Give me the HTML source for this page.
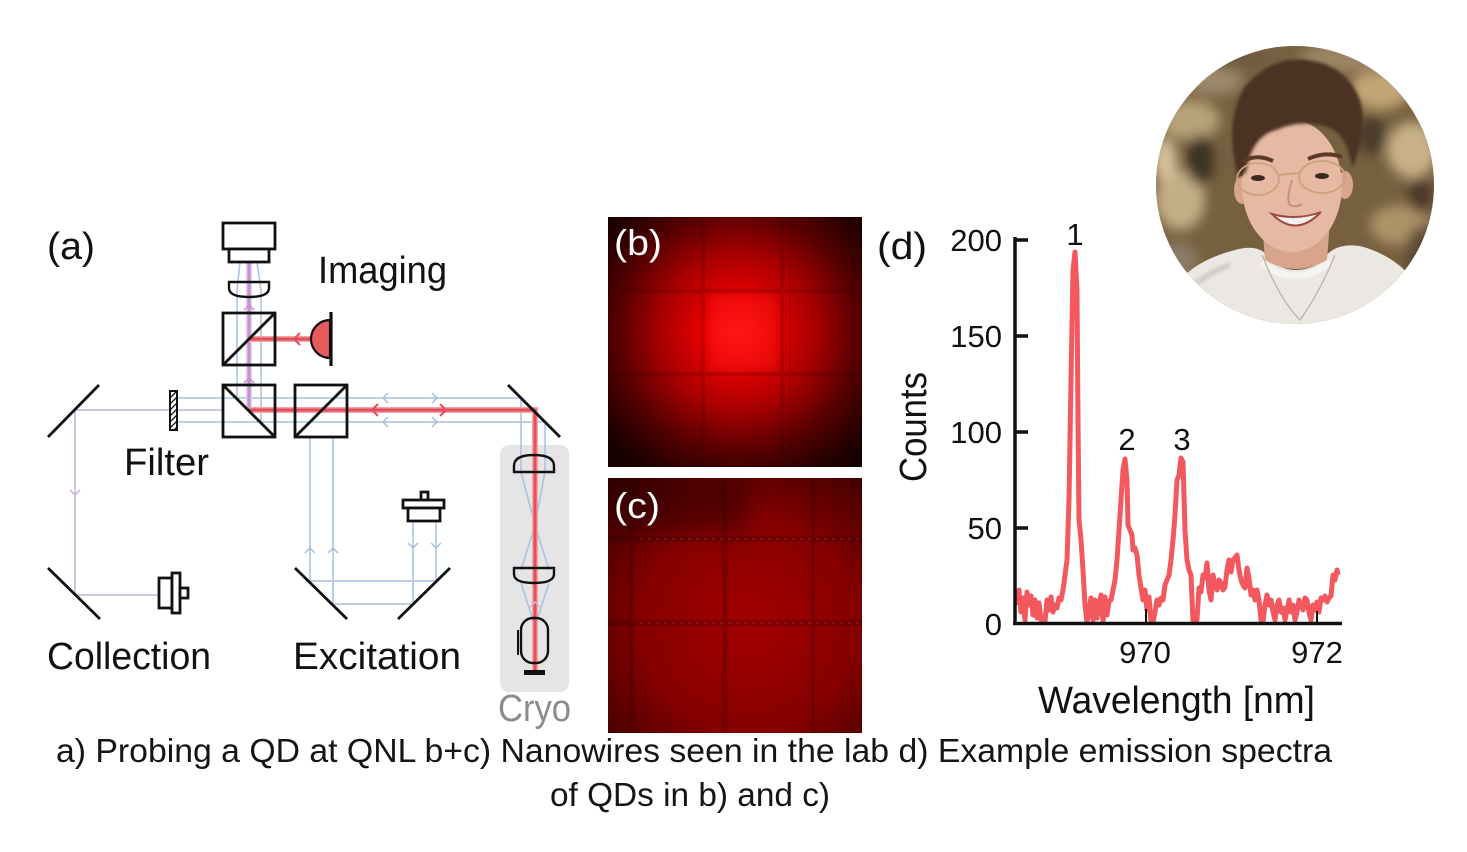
<!DOCTYPE html>
<html><head><meta charset="utf-8"><style>
html,body{margin:0;padding:0;background:#fff;}
svg{display:block;}
text{font-family:"Liberation Sans",sans-serif;}
</style></head><body>
<svg width="1467" height="852" viewBox="0 0 1467 852" xmlns="http://www.w3.org/2000/svg">
<defs>
  <radialGradient id="gb" gradientUnits="userSpaceOnUse" cx="738" cy="332" r="172">
    <stop offset="0" stop-color="#ff1010"/>
    <stop offset="0.2" stop-color="#e80000"/>
    <stop offset="0.45" stop-color="#a80000"/>
    <stop offset="0.7" stop-color="#560000"/>
    <stop offset="0.9" stop-color="#260000"/>
    <stop offset="1" stop-color="#160000"/>
  </radialGradient>
  <radialGradient id="gc" gradientUnits="userSpaceOnUse" cx="748" cy="625" r="210">
    <stop offset="0" stop-color="#a40000"/>
    <stop offset="0.5" stop-color="#860000"/>
    <stop offset="0.8" stop-color="#500000"/>
    <stop offset="1" stop-color="#260000"/>
  </radialGradient>
  <clipPath id="pc"><circle cx="1295" cy="185" r="139"/></clipPath>
  <clipPath id="cb"><rect x="608" y="217" width="254" height="250"/></clipPath>
  <clipPath id="cc"><rect x="608" y="478" width="254" height="255"/></clipPath>
  <clipPath id="cf"><rect x="170" y="391" width="7" height="39"/></clipPath>
  <filter id="bl" x="-50%" y="-50%" width="200%" height="200%"><feGaussianBlur stdDeviation="6"/></filter>
  <filter id="bl2" x="-20%" y="-20%" width="140%" height="140%"><feGaussianBlur stdDeviation="1.5"/></filter>
  <filter id="bl3" x="-50%" y="-50%" width="200%" height="200%"><feGaussianBlur stdDeviation="10"/></filter>
  <filter id="bl4" x="-50%" y="-50%" width="200%" height="200%"><feGaussianBlur stdDeviation="4"/></filter>
</defs>

<!-- ============ (a) optical setup ============ -->
<rect x="500" y="445" width="69" height="247" rx="9" fill="#e5e5e5"/>

<g stroke="#a9c1de" stroke-width="1.5" fill="none">
  <line x1="170" y1="398" x2="521" y2="398"/>
  <line x1="170" y1="422" x2="545" y2="422"/>
  <polyline points="237,398 237,290 240,262"/>
  <polyline points="261,422 261,290 257,262"/>
  <polyline points="310,437 310,581 436,581 436,521"/>
  <polyline points="333,437 333,604 413,604 413,521"/>
  <polyline points="521,398 521,472 535,525 549,570"/>
  <polyline points="545,422 545,472 535,525 521,570"/>
  <polyline points="521,583 533,620"/>
  <polyline points="549,583 537,620"/>
  <polyline points="388,393 383,398 388,403"/>
  <polyline points="432,393 437,398 432,403"/>
  <polyline points="388,417 383,422 388,427"/>
  <polyline points="432,417 437,422 432,427"/>
  <polyline points="305,553 310,548 315,553"/>
  <polyline points="328,553 333,548 338,553"/>
  <polyline points="408,543 413,548 418,543"/>
  <polyline points="431,543 436,548 441,543"/>
</g>
<g stroke="#c6b2dc" stroke-width="1.5" fill="none">
  <polyline points="223,410 75,410 75,595 159,595"/>
  <polyline points="70,490 75,495 80,490"/>
</g>

<g fill="none" stroke-linecap="butt">
  <line x1="249" y1="262" x2="249" y2="410" stroke="#e2cdea" stroke-width="6"/>
  <line x1="249" y1="262" x2="249" y2="410" stroke="#c792d3" stroke-width="3"/>
  <polyline points="249,410 535,410 535,670" stroke="#f3a3a9" stroke-width="6"/>
  <polyline points="249,410 535,410 535,670" stroke="#e44f59" stroke-width="3"/>
  <line x1="249" y1="339" x2="312" y2="339" stroke="#f3a3a9" stroke-width="6"/>
  <line x1="249" y1="339" x2="312" y2="339" stroke="#e44f59" stroke-width="3"/>
  <polyline points="378,404 372,410 378,416" stroke="#e44f59" stroke-width="2"/>
  <polyline points="440,404 446,410 440,416" stroke="#e44f59" stroke-width="2"/>
  <polyline points="300,333 294,339 300,345" stroke="#e44f59" stroke-width="2"/>
  <polyline points="244,310 249,305 254,310" stroke="#c792d3" stroke-width="1.5"/>
  <polyline points="244,383 249,378 254,383" stroke="#c792d3" stroke-width="1.5"/>
  <polyline points="530,607 535,602 540,607" stroke="#c8b6de" stroke-width="1.5"/>
</g>

<g stroke="#111" stroke-width="2.8" fill="none" stroke-linejoin="miter">
  <rect x="223" y="223" width="52" height="26" fill="#fff"/>
  <rect x="229" y="249" width="40" height="13" fill="#fff"/>
  <path d="M229,282 H269 V288 Q269,297 249,297 Q229,297 229,288 Z" stroke-width="2.4"/>
  <rect x="223" y="313" width="52" height="52"/>
  <line x1="223" y1="365" x2="275" y2="313"/>
  <rect x="223" y="385" width="52" height="52"/>
  <line x1="223" y1="385" x2="275" y2="437"/>
  <rect x="295" y="385" width="52" height="52"/>
  <line x1="295" y1="437" x2="347" y2="385"/>
  <path d="M330,320 A19,19 0 0 0 330,358 Z" fill="#e85a5e" stroke-width="2.2"/>
  <line x1="331" y1="312" x2="331" y2="366" stroke-width="3.2"/>
  <line x1="48" y1="437" x2="99" y2="385"/>
  <line x1="48" y1="568" x2="100" y2="619"/>
  <line x1="295" y1="568" x2="347" y2="619"/>
  <line x1="398" y1="619" x2="450" y2="568"/>
  <line x1="508" y1="385" x2="560" y2="437"/>
  <rect x="159" y="578" width="13" height="30" fill="#fff"/>
  <rect x="172" y="573" width="8" height="40" fill="#fff"/>
  <rect x="180" y="588" width="8" height="10" fill="#fff"/>
  <rect x="421" y="492" width="7" height="8" fill="#fff"/>
  <rect x="403" y="500" width="41" height="8" fill="#fff"/>
  <rect x="408" y="508" width="32" height="13" fill="#fff"/>
  <path d="M514,472 H554 V466 Q554,455 534,455 Q514,455 514,466 Z" stroke-width="2.4"/>
  <path d="M514,568 H554 V574 Q554,583 534,583 Q514,583 514,574 Z" stroke-width="2.4"/>
  <rect x="521" y="618" width="27" height="45" rx="12" stroke-width="2.4"/>
  <line x1="518" y1="630" x2="518" y2="655" stroke-width="2"/>
</g>
<rect x="524" y="670" width="21" height="5" fill="#111"/>
<rect x="170" y="391" width="7" height="39" fill="#fff"/>
<g clip-path="url(#cf)" stroke="#111" stroke-width="1.3">
  <line x1="170" y1="398" x2="177" y2="391"/>
  <line x1="170" y1="404" x2="177" y2="397"/>
  <line x1="170" y1="410" x2="177" y2="403"/>
  <line x1="170" y1="416" x2="177" y2="409"/>
  <line x1="170" y1="422" x2="177" y2="415"/>
  <line x1="170" y1="428" x2="177" y2="421"/>
  <line x1="170" y1="434" x2="177" y2="427"/>
</g>
<rect x="170" y="391" width="7" height="39" fill="none" stroke="#111" stroke-width="2"/>

<g fill="#111" font-size="38">
  <text x="47" y="259" textLength="48" lengthAdjust="spacingAndGlyphs">(a)</text>
  <text x="318" y="283" textLength="129" lengthAdjust="spacingAndGlyphs">Imaging</text>
  <text x="124" y="475" textLength="85" lengthAdjust="spacingAndGlyphs">Filter</text>
  <text x="47" y="669" textLength="164" lengthAdjust="spacingAndGlyphs">Collection</text>
  <text x="293" y="669" textLength="168" lengthAdjust="spacingAndGlyphs">Excitation</text>
</g>
<text x="498" y="721" font-size="38" fill="#8c8c8c" textLength="73" lengthAdjust="spacingAndGlyphs">Cryo</text>

<!-- ============ (b) image ============ -->
<g clip-path="url(#cb)">
  <rect x="608" y="217" width="254" height="250" fill="url(#gb)"/>
  <rect x="710" y="296" width="66" height="74" fill="#ff2020" opacity="0.35" filter="url(#bl4)"/>
  <g opacity="0.18" stroke="#300000" fill="none">
    <line x1="703" y1="217" x2="703" y2="467" stroke-width="4"/>
    <line x1="782" y1="217" x2="782" y2="467" stroke-width="3"/>
    <line x1="790" y1="217" x2="790" y2="467" stroke-width="2"/>
    <line x1="608" y1="291" x2="862" y2="291" stroke-width="4"/>
    <line x1="608" y1="374" x2="862" y2="374" stroke-width="4"/>
  </g>
</g>
<text x="614" y="255" font-size="36" fill="#fff" textLength="48" lengthAdjust="spacingAndGlyphs">(b)</text>

<!-- ============ (c) image ============ -->
<g clip-path="url(#cc)">
  <rect x="608" y="478" width="254" height="255" fill="url(#gc)"/>
  <rect x="608" y="478" width="140" height="55" fill="#200000" opacity="0.4" filter="url(#bl3)"/>
  <g opacity="0.25" stroke="#2a0000" fill="none">
    <line x1="631" y1="478" x2="631" y2="733" stroke-width="4"/>
    <line x1="725" y1="478" x2="725" y2="733" stroke-width="5"/>
    <line x1="813" y1="478" x2="813" y2="733" stroke-width="4"/>
    <line x1="608" y1="539" x2="862" y2="539" stroke-width="6"/>
    <line x1="608" y1="623" x2="862" y2="623" stroke-width="6"/>
  </g>
  <g opacity="0.18" stroke="#ff6060" stroke-dasharray="3 5" stroke-width="2">
    <line x1="640" y1="539" x2="860" y2="539"/>
    <line x1="640" y1="623" x2="860" y2="623"/>
  </g>
</g>
<text x="614" y="518" font-size="36" fill="#fff" textLength="46" lengthAdjust="spacingAndGlyphs">(c)</text>

<!-- ============ (d) chart ============ -->
<g fill="#111">
  <text x="877" y="259" font-size="38" textLength="50" lengthAdjust="spacingAndGlyphs">(d)</text>
  <g font-size="31" text-anchor="end">
    <text x="1002" y="251">200</text>
    <text x="1002" y="347">150</text>
    <text x="1002" y="443">100</text>
    <text x="1002" y="539">50</text>
    <text x="1002" y="635">0</text>
  </g>
  <g font-size="31" text-anchor="middle">
    <text x="1145" y="663">970</text>
    <text x="1317" y="663">972</text>
    <text x="1075" y="245">1</text>
    <text x="1127" y="450">2</text>
    <text x="1182" y="450">3</text>
  </g>
  <text x="1038" y="713" font-size="38" textLength="277" lengthAdjust="spacingAndGlyphs">Wavelength [nm]</text>
  <text transform="translate(926,427) rotate(-90)" font-size="38" text-anchor="middle" textLength="110" lengthAdjust="spacingAndGlyphs">Counts</text>
</g>
<polyline fill="none" stroke="#f2585e" stroke-width="5" stroke-linejoin="round" points="
1017,605 1019,590 1021,612 1023,598 1025,620 1027,592 1029,605 1031,596 1033,615 1035,600 1037,618 1039,603 1041,620 1043,622 1045,622 1047,600 1049,610 1051,597 1053,612 1055,605 1057,608 1059,598 1061,600 1063,590 1065,575 1067,560 1069,500 1071,380 1073,270 1075,252 1077,290 1078,420 1079,520 1081,540 1083,570 1085,605 1087,622 1089,610 1091,598 1093,620 1095,600 1097,618 1099,605 1101,595 1103,622 1105,597 1107,615 1109,601 1111,600 1113,590 1115,580 1117,560 1119,530 1121,500 1123,470 1125,459 1127,480 1128,525 1130,530 1132,535 1133,550 1135,548 1137,555 1139,575 1141,588 1143,600 1145,590 1147,610 1149,597 1151,622 1153,622 1155,612 1157,600 1159,605 1161,598 1163,600 1165,585 1167,580 1169,575 1171,560 1173,540 1175,515 1177,480 1179,475 1181,458 1183,462 1185,530 1187,560 1189,570 1191,575 1193,622 1195,622 1197,620 1199,588 1201,592 1203,575 1205,578 1207,563 1209,590 1211,600 1213,575 1215,585 1217,590 1219,580 1221,583 1223,590 1225,587 1227,570 1229,560 1231,572 1233,560 1235,558 1237,555 1239,570 1241,580 1243,585 1245,588 1247,568 1249,578 1251,595 1253,590 1255,600 1257,590 1259,600 1261,620 1263,622 1265,605 1267,595 1269,605 1271,600 1273,612 1275,620 1277,605 1279,600 1281,612 1283,608 1285,620 1287,610 1289,600 1291,612 1293,605 1295,620 1297,612 1299,600 1301,605 1303,610 1305,598 1307,600 1309,612 1311,620 1313,605 1315,610 1317,602 1319,612 1321,598 1323,600 1325,596 1327,602 1329,598 1331,596 1333,575 1335,580 1337,570 1338,575"/>
<g stroke="#111">
  <line x1="1015" y1="237" x2="1015" y2="625" stroke-width="3.5"/>
  <line x1="1013" y1="623.5" x2="1342" y2="623.5" stroke-width="3.5"/>
  <line x1="1015" y1="240" x2="1028" y2="240" stroke-width="3.5"/>
  <line x1="1015" y1="336" x2="1028" y2="336" stroke-width="3.5"/>
  <line x1="1015" y1="432" x2="1028" y2="432" stroke-width="3.5"/>
  <line x1="1015" y1="528" x2="1028" y2="528" stroke-width="3.5"/>
  <line x1="1146" y1="609" x2="1146" y2="623" stroke-width="2"/>
  <line x1="1317" y1="611" x2="1317" y2="623" stroke-width="2"/>
</g>

<!-- ============ photo ============ -->
<g clip-path="url(#pc)">
  <rect x="1150" y="40" width="290" height="290" fill="#76603f"/>
  <g filter="url(#bl)">
    <ellipse cx="1190" cy="120" rx="30" ry="20" fill="#b8a27a"/>
    <ellipse cx="1215" cy="80" rx="28" ry="15" fill="#9c8a6a"/>
    <ellipse cx="1380" cy="90" rx="30" ry="20" fill="#c2a474"/>
    <ellipse cx="1412" cy="150" rx="25" ry="28" fill="#c9b189"/>
    <ellipse cx="1400" cy="225" rx="30" ry="20" fill="#ad9367"/>
    <ellipse cx="1180" cy="200" rx="25" ry="30" fill="#c4ae88"/>
    <ellipse cx="1178" cy="262" rx="20" ry="20" fill="#8a7a66"/>
    <ellipse cx="1235" cy="58" rx="30" ry="12" fill="#6e5a40"/>
    <ellipse cx="1340" cy="58" rx="40" ry="15" fill="#9b8463"/>
    <ellipse cx="1425" cy="255" rx="20" ry="30" fill="#5c4a36"/>
    <ellipse cx="1200" cy="160" rx="14" ry="25" fill="#3e3024"/>
    <ellipse cx="1372" cy="135" rx="14" ry="20" fill="#4a3a2a"/>
    <ellipse cx="1420" cy="195" rx="12" ry="18" fill="#4a3928"/>
    <ellipse cx="1165" cy="160" rx="12" ry="22" fill="#d6c29b"/>
  </g>
  <path d="M1160,340 L1172,292 Q1188,262 1235,250 Q1262,242 1272,262 Q1295,278 1322,262 Q1332,242 1360,246 Q1405,258 1425,298 L1445,340 Z" fill="#ebe8e4"/>
  <path d="M1180,300 Q1200,275 1230,265" stroke="#d2cdc6" stroke-width="6" fill="none" filter="url(#bl2)"/>
  <path d="M1262,222 L1265,260 Q1295,278 1327,260 L1330,220 Z" fill="#d8a48c"/>
  <path d="M1262,262 Q1295,290 1330,262" stroke="#f6f4f0" stroke-width="7" fill="none"/>
  <ellipse cx="1242" cy="190" rx="8" ry="14" fill="#d9a58c"/>
  <ellipse cx="1345" cy="185" rx="8" ry="14" fill="#d9a58c"/>
  <ellipse cx="1292" cy="186" rx="50" ry="66" fill="#e6b9a2"/>
  <path filter="url(#bl2)" d="M1238,178 Q1224,122 1244,88 Q1270,56 1306,60 Q1346,64 1360,100 Q1368,132 1352,168 Q1348,136 1330,128 Q1302,118 1276,130 Q1252,136 1246,172 Z" fill="#4b3324"/>
  <path d="M1242,162 Q1256,153 1273,161" stroke="#5a3a28" stroke-width="4" fill="none"/>
  <path d="M1308,159 Q1325,151 1342,157" stroke="#5a3a28" stroke-width="4" fill="none"/>
  <g stroke="#c4a67c" stroke-width="1.8" fill="none">
    <ellipse cx="1258" cy="179" rx="21" ry="16"/>
    <ellipse cx="1322" cy="177" rx="23" ry="16"/>
    <line x1="1279" y1="175" x2="1299" y2="173"/>
  </g>
  <ellipse cx="1258" cy="178" rx="7" ry="3" fill="#3a2a20"/>
  <ellipse cx="1322" cy="176" rx="7" ry="3" fill="#3a2a20"/>
  <path d="M1292,180 Q1286,200 1290,205 Q1296,208 1302,204" stroke="#c98e76" stroke-width="2" fill="none"/>
  <path d="M1272,214 Q1296,238 1321,212 Q1297,221 1272,214 Z" fill="#f4f0ec" stroke="#9c4c40" stroke-width="2"/>
  <path d="M1262,255 Q1280,300 1300,320 Q1320,292 1335,255" stroke="#b8b0a0" stroke-width="1.2" fill="none"/>
</g>

<!-- ============ caption ============ -->
<g fill="#151515" font-size="33">
  <text x="56" y="762" textLength="1276" lengthAdjust="spacingAndGlyphs">a) Probing a QD at QNL b+c) Nanowires seen in the lab d) Example emission spectra</text>
  <text x="550" y="806" textLength="280" lengthAdjust="spacingAndGlyphs">of QDs in b) and c)</text>
</g>
</svg>
</body></html>
